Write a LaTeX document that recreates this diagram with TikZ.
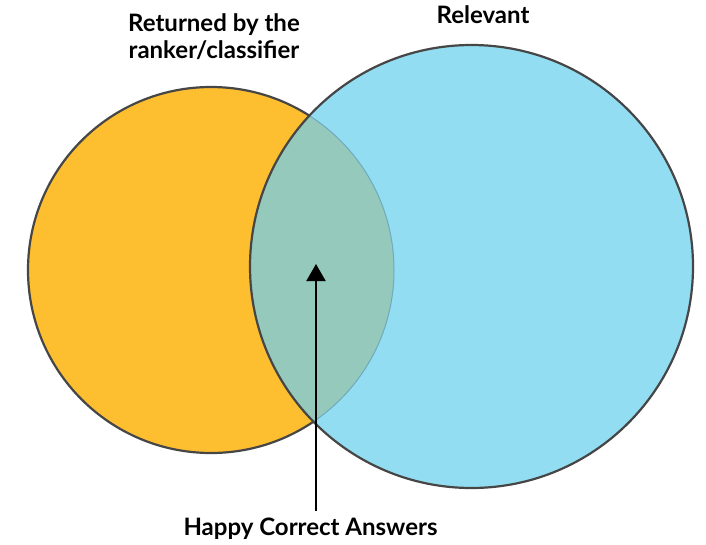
\documentclass[tikz,border=0pt]{standalone}
\usepackage{fontspec}
\setmainfont{Lato}
\usetikzlibrary{arrows.meta}
\definecolor{orangeF}{RGB}{253,190,48}
\definecolor{blueF}{RGB}{147,221,243}
\definecolor{overF}{RGB}{148,201,188}
\definecolor{edgeC}{RGB}{70,70,70}
\definecolor{faintC}{RGB}{110,170,190}
\tikzset{
  lbl/.style={font=\bfseries\fontsize{24}{27}\selectfont, align=center, text=black, inner sep=2pt},
  outline/.style={draw=edgeC, line width=2.2pt}
}
\begin{document}
\begin{tikzpicture}[x=1pt,y=-1pt]
\useasboundingbox (0,0) rectangle (706,544);
\fill[white] (0,0) rectangle (706,544);
% orange set
\fill[orangeF] (211,270) circle[radius=183];
\draw[outline] (211,270) circle[radius=183];
% blue set
\fill[blueF] (471.5,266.5) circle[radius=221.5];
% overlap
\begin{scope}
  \clip (211,270) circle[radius=183];
  \fill[overF] (471.5,266.5) circle[radius=221.5];
\end{scope}
\begin{scope}
  \clip (471.5,266.5) circle[radius=221.5];
  \draw[faintC, line width=1pt] (211,270) circle[radius=183];
\end{scope}
\draw[outline] (471.5,266.5) circle[radius=221.5];
% labels
\node[lbl] (ret) at (214,37) {Returned by the\\ranker/classifier};
\node[lbl] (rel) at (483,15) {Relevant};
\node[lbl, anchor=base] (hap) at (310.5,535) {Happy Correct Answers};
\coordinate (tip) at (316,264);
\draw[line width=2pt, -{Triangle[width=19pt,length=17pt]}] (hap.north -| tip) ++(0,-4) -- (tip);
\end{tikzpicture}
\end{document}
